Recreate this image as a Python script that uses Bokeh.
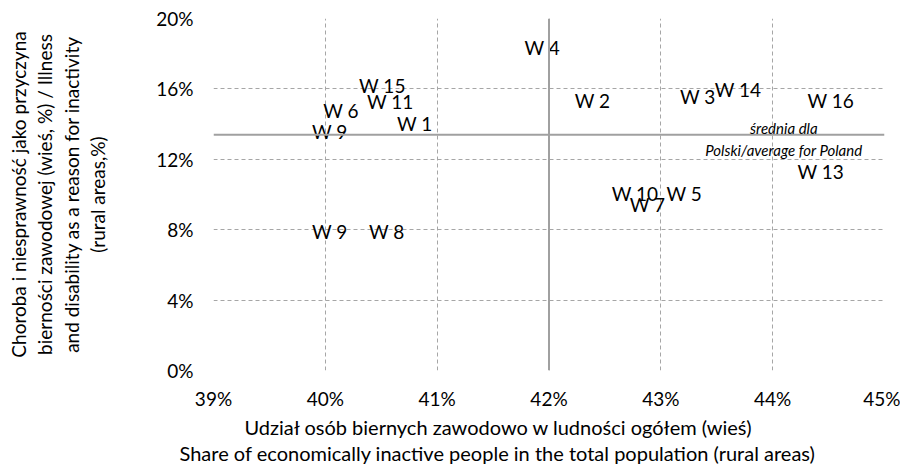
import math
from bokeh.plotting import figure
from bokeh.models import ColumnDataSource, Span, Label, FixedTicker, PrintfTickFormatter, Range1d, Title
from bokeh.core.properties import value
from bokeh.embed import file_html
from bokeh.resources import INLINE

# ---- data ----
regions = ["W 4", "W 15", "W 11", "W 6", "W 9", "W 1", "W 2", "W 3", "W 14",
           "W 16", "W 13", "W 10", "W 7", "W 5", "W 9", "W 8"]
share_inactive = [41.94, 40.51, 40.58, 40.14, 40.04, 40.80, 42.39, 43.33, 43.69,
                  44.52, 44.43, 42.77, 42.88, 43.21, 40.04, 40.55]
illness_share = [18.38, 16.22, 15.26, 14.75, 13.57, 14.02, 15.33, 15.54, 15.94,
                 15.33, 11.31, 10.07, 9.45, 10.07, 7.87, 7.87]
avg_share = 42.0
avg_illness = 13.4
x_ticks = [39, 40, 41, 42, 43, 44, 45]
y_ticks = [0, 4, 8, 12, 16, 20]

x_title_1 = "Udział osób biernych zawodowo w ludności ogółem (wieś)"
x_title_2 = "Share of economically inactive people in the total population (rural areas)"
y_title = ("Choroba i niesprawność jako przyczyna\n"
           "bierności zawodowej (wieś, %) / Illness\n"
           "and disability as a reason for inactivity\n"
           "(rural areas,%)")
avg_label_1 = "średnia dla"
avg_label_2 = "Polski/average for Poland"

FONT = "Lato"
GRID = "#a6a6a6"

p = figure(width=900, height=464,
           x_range=Range1d(x_ticks[0], x_ticks[-1]),
           y_range=Range1d(y_ticks[0], y_ticks[-1]),
           output_backend="svg", toolbar_location=None,
           min_border_left=213, min_border_top=18,
           min_border_right=16, min_border_bottom=91)
p.outline_line_color = None
p.background_fill_color = "white"
p.border_fill_color = "white"

# grid
p.xgrid.ticker = FixedTicker(ticks=x_ticks)
p.ygrid.ticker = FixedTicker(ticks=y_ticks)
for g in (p.xgrid, p.ygrid):
    g.grid_line_color = GRID
    g.grid_line_dash = "4 3"
    g.grid_line_width = 1

# axes
p.xaxis.ticker = FixedTicker(ticks=x_ticks)
p.yaxis.ticker = FixedTicker(ticks=y_ticks)
for ax in (p.xaxis, p.yaxis):
    ax.formatter = PrintfTickFormatter(format="%d%%")
    ax.axis_line_color = None
    ax.major_tick_line_color = None
    ax.minor_tick_line_color = None
    ax.major_tick_in = 0
    ax.major_tick_out = 0
    ax.minor_tick_in = 0
    ax.minor_tick_out = 0
    ax.major_label_text_font = FONT
    ax.major_label_text_font_size = "19px"
    ax.major_label_text_color = "black"
p.yaxis.major_label_standoff = 20
p.xaxis.major_label_standoff = 16

# y axis title (multi-line)
p.yaxis.axis_label = y_title
p.yaxis.axis_label_text_font = FONT
p.yaxis.axis_label_text_font_size = "19px"
p.yaxis.axis_label_text_font_style = "normal"
p.yaxis.axis_label_text_color = "black"
p.yaxis.axis_label_text_line_height = 1.15
p.yaxis.axis_label_standoff = 44

# x axis titles (two lines, centred left of the frame centre as in the reference)
for txt, off in ((x_title_1, 31), (x_title_2, -34)):
    p.add_layout(Title(text=txt, align="left", offset=off, standoff=0,
                       text_font=FONT, text_font_size="20px", text_font_style="normal",
                       text_color="black"), "below")

# average lines
p.add_layout(Span(location=avg_share, dimension="height", line_color="#a0a0a0", line_width=2))
p.add_layout(Span(location=avg_illness, dimension="width", line_color="#a0a0a0", line_width=2))

# data labels
src = ColumnDataSource(dict(x=share_inactive, y=illness_share, label=regions))
p.text(x="x", y="y", text="label", source=src,
       text_font=value(FONT), text_font_size="19px",
       text_align="center", text_baseline="middle", text_color="black")

# average annotation
for txt, off in ((avg_label_1, 7), (avg_label_2, -15)):
    p.add_layout(Label(x=44.1, y=avg_illness, y_offset=off, text=txt,
                       text_font=FONT, text_font_size="15px", text_font_style="italic",
                       text_align="center", text_baseline="middle", text_color="black"))

open("out.html", "w").write(file_html(p, INLINE))
